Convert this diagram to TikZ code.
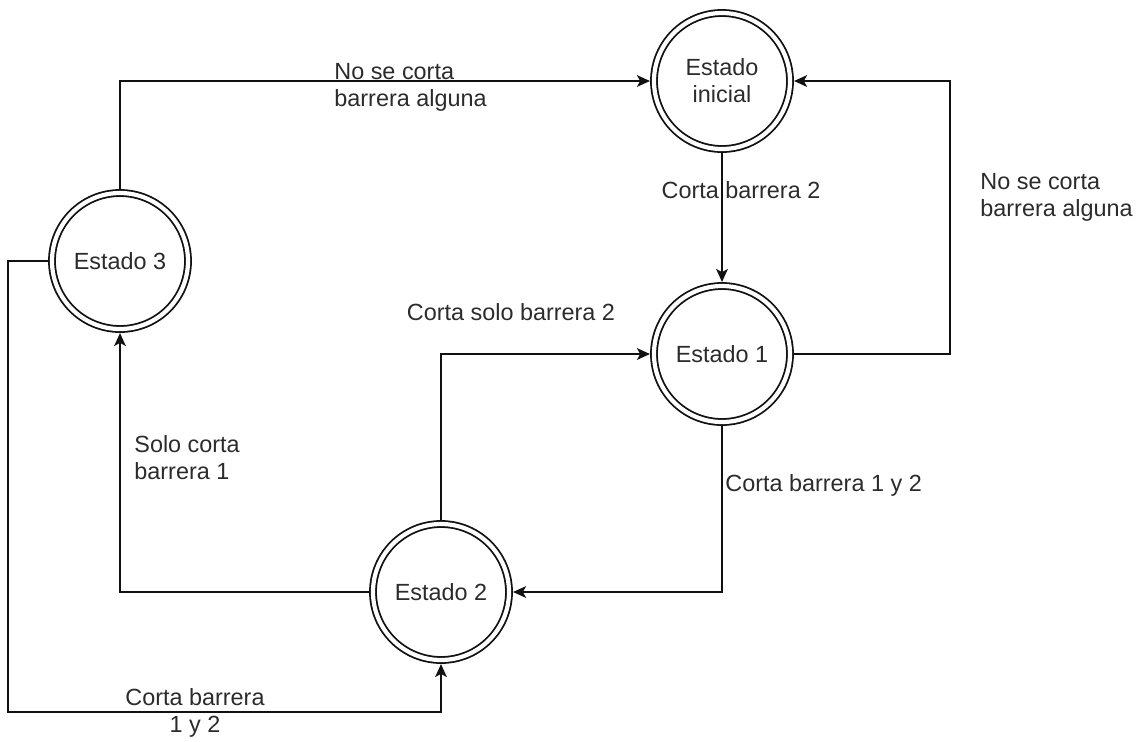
\documentclass[tikz,border=0pt]{standalone}
\usepackage{fontspec}
\setmainfont{Liberation Sans}
\usetikzlibrary{arrows.meta,positioning,calc}
\definecolor{diagink}{HTML}{111111}
\definecolor{diagtext}{HTML}{2B2B2B}
\tikzset{
  >={Stealth[length=6.5pt,width=5.8pt,inset=1.6pt]},
  statenode/.style={circle,draw=diagink,line width=0.9pt,double,double distance=2.1pt,
                    minimum size=68pt,inner sep=0pt,outer sep=2pt,align=center,
                    font=\fontsize{11.7}{13.5}\selectfont,text=diagtext},
  flowarrow/.style={->,line width=1.05pt,draw=diagink},
  edgelabel/.style={inner sep=0pt,font=\fontsize{11.7}{13.5}\selectfont,text=diagtext},
}
\begin{document}
\begin{tikzpicture}[x=0.5pt,y=-0.5pt]
  \useasboundingbox (0,0) rectangle (1140,741);
  % the four states
  \node[statenode] (ini) at (722,81) {Estado\\inicial};
  \node[statenode] (e1) at (722,354) {Estado 1};
  \node[statenode] (e2) at (441,592) {Estado 2};
  \node[statenode] (e3) at (120,261) {Estado 3};
  % corners of the two outer loops
  \coordinate (rgt) at (950,354);
  \coordinate (lft) at (8,712);
  % transitions
  \draw[flowarrow] (e3.north) |- (ini.west);
  \draw[flowarrow] (ini.south) -- (e1.north);
  \draw[flowarrow] (e1.east) -- (rgt) |- (ini.east);
  \draw[flowarrow] (e1.south) |- (e2.east);
  \draw[flowarrow] (e2.north) |- (e1.west);
  \draw[flowarrow] (e2.west) -| (e3.south);
  \draw[flowarrow] (e3.west) -| (lft) -| (e2.south);
  % labels on the transitions
  \node[edgelabel,anchor=west,align=left] (l3i) at (334,87) {No se corta\\barrera alguna};
  \node[edgelabel] (li1) at (741,190) {Corta barrera 2};
  \node[edgelabel,anchor=west,align=left] (l1i) at (980,197) {No se corta\\barrera alguna};
  \node[edgelabel] (l21) at (511,312) {Corta solo barrera 2};
  \node[edgelabel,anchor=west,align=left] (l23) at (134,458) {Solo corta\\barrera 1};
  \node[edgelabel,anchor=west] (l12) at (725,485) {Corta barrera 1 y 2};
  \node[edgelabel,align=center] (l32) at (195,713) {Corta barrera\\1 y 2};
\end{tikzpicture}
\end{document}
